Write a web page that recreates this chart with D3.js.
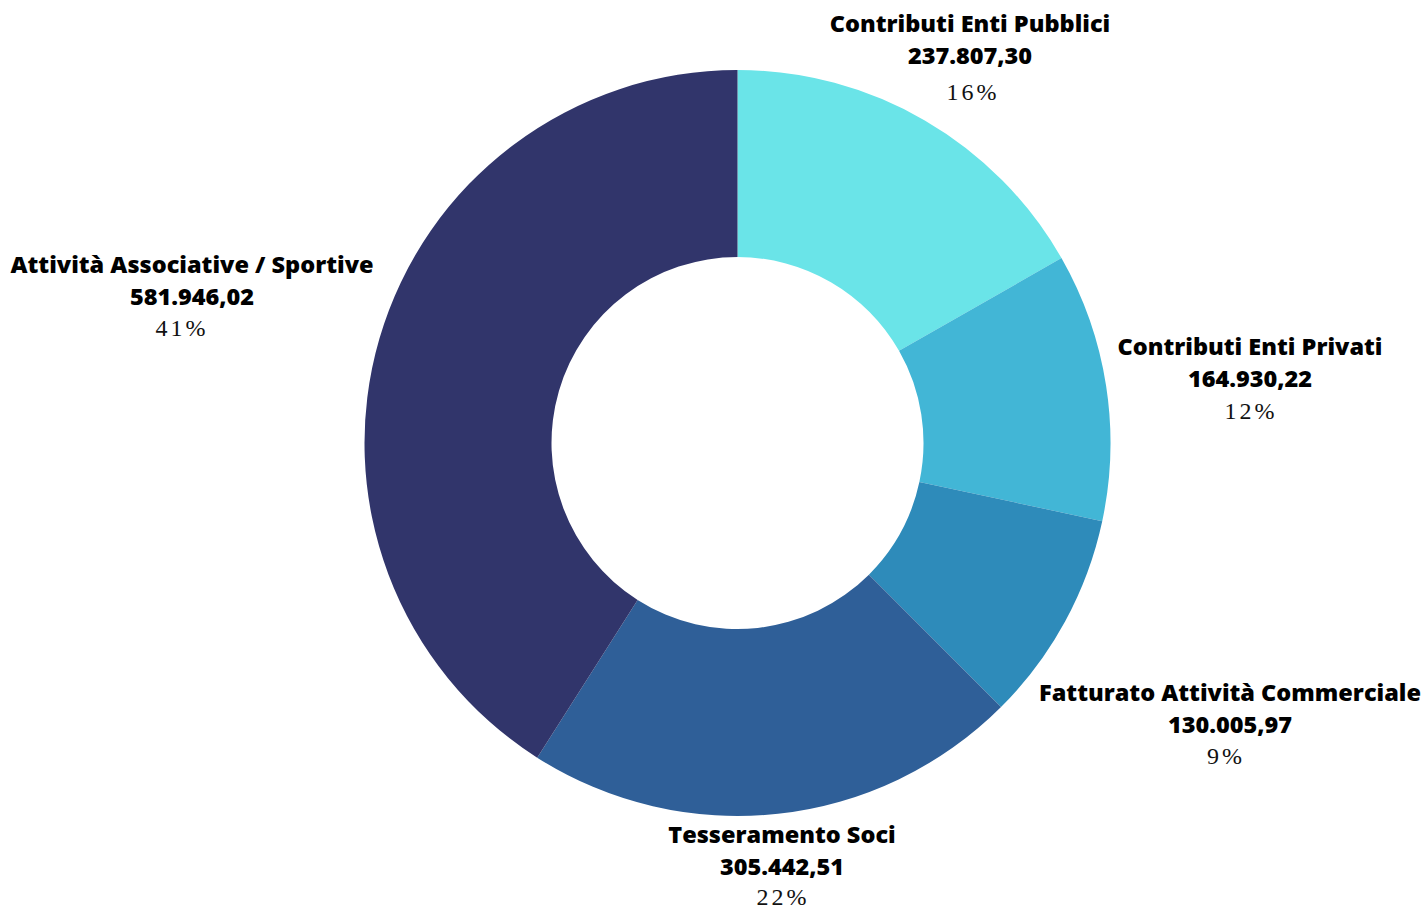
<!DOCTYPE html>
<html lang="it">
<head>
  <meta charset="UTF-8">
  <title>Entrate</title>
  <script src="https://d3js.org/d3.v7.min.js"></script>
  <style>
    body { margin: 0; background: #ffffff; }
    .lbl-title, .lbl-value {
      font-family: "Open Sans", sans-serif;
      font-weight: 800;
      font-size: 23.5px;
      fill: #000;
    }
    .lbl-pct {
      font-family: "Liberation Serif", "DejaVu Serif", serif;
      font-size: 24px;
      letter-spacing: 3px;
      fill: #111;
    }
  </style>
</head>
<body>
  <svg width="1424" height="910"></svg>
  <script>
    // data
    const categories = [
      "Contributi Enti Pubblici",
      "Contributi Enti Privati",
      "Fatturato Attività Commerciale",
      "Tesseramento Soci",
      "Attività Associative / Sportive"
    ];
    const values = [237807.30, 164930.22, 130005.97, 305442.51, 581946.02];
    const valueLabels = ["237.807,30", "164.930,22", "130.005,97", "305.442,51", "581.946,02"];
    const pctLabels = ["16%", "12%", "9%", "22%", "41%"];
    const colors = ["#6ae4e8", "#42b6d6", "#2e8bba", "#2f5f98", "#31356b"];

    // label layout: center x, title baseline y, percent dy, percent dx
    const labelPos = [
      [970, 32, 68, 3],
      [1250, 355, 64, 1],
      [1230, 701, 63, -4],
      [782, 843, 62, 1],
      [192, 273, 63, -10]
    ];

    const cx = 737.5, cy = 443;
    const outerR = 373, innerR = 186;

    const svg = d3.select("svg");

    const pie = d3.pie().sort(null).value(d => d.value);
    const arc = d3.arc().innerRadius(innerR).outerRadius(outerR);

    const rows = categories.map((c, i) => ({ name: c, value: values[i], i }));

    const g = svg.append("g").attr("transform", `translate(${cx},${cy})`);
    g.selectAll("path")
      .data(pie(rows))
      .enter().append("path")
      .attr("d", arc)
      .attr("fill", d => colors[d.data.i]);

    const labels = svg.selectAll("g.lbl")
      .data(rows)
      .enter().append("g")
      .attr("class", "lbl")
      .attr("transform", d => `translate(${labelPos[d.i][0]},${labelPos[d.i][1]})`)
      .attr("text-anchor", "middle");

    labels.append("text").attr("class", "lbl-title").attr("y", 0).text(d => d.name);
    labels.append("text").attr("class", "lbl-value").attr("y", 32).text(d => valueLabels[d.i]);
    labels.append("text").attr("class", "lbl-pct")
      .attr("y", d => labelPos[d.i][2])
      .attr("x", d => labelPos[d.i][3])
      .text(d => pctLabels[d.i]);
  </script>
</body>
</html>
